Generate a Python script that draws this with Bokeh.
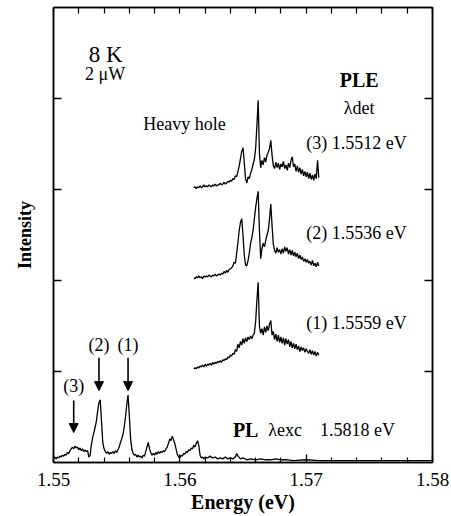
from math import pi
from bokeh.plotting import figure
from bokeh.models import (Range1d, LinearAxis, FixedTicker, Label, Arrow,
                          NormalHead, NumeralTickFormatter)
from bokeh.embed import file_html
from bokeh.resources import INLINE

# ---------------- data ----------------
X_TICKS = [1.55, 1.56, 1.57, 1.58]
X_MINOR = [1.552, 1.554, 1.556, 1.558, 1.562, 1.564, 1.566, 1.568,
           1.572, 1.574, 1.576, 1.578]
Y_TICKS = [1, 2, 3, 4]

# PL spectrum (energy eV, intensity arb.)
PL_POINTS = [
    (1.5500, 0.05), (1.5501, 0.06), (1.5502, 0.04), (1.5503, 0.06), (1.5504, 0.05),
    (1.5505, 0.07), (1.5506, 0.06), (1.5507, 0.08), (1.5508, 0.07), (1.5509, 0.09),
    (1.5510, 0.08), (1.5511, 0.11), (1.5512, 0.10), (1.5513, 0.13), (1.5514, 0.15),
    (1.5515, 0.17), (1.5516, 0.15), (1.5517, 0.18), (1.5518, 0.16), (1.5519, 0.17),
    (1.5520, 0.14), (1.5521, 0.16), (1.5522, 0.13), (1.5523, 0.15), (1.5524, 0.12),
    (1.5525, 0.14), (1.5526, 0.12), (1.5527, 0.13), (1.5528, 0.06), (1.5529, 0.08),
    (1.5530, 0.20), (1.5531, 0.27), (1.5532, 0.33), (1.5533, 0.39), (1.5534, 0.46),
    (1.5535, 0.57), (1.5536, 0.66), (1.5537, 0.69), (1.5538, 0.45), (1.5539, 0.22),
    (1.5540, 0.15), (1.5541, 0.12), (1.5542, 0.10), (1.5543, 0.12), (1.5544, 0.09),
    (1.5545, 0.11), (1.5546, 0.10), (1.5547, 0.12), (1.5548, 0.10), (1.5549, 0.13),
    (1.5550, 0.11), (1.5551, 0.14), (1.5552, 0.17), (1.5553, 0.22), (1.5554, 0.26),
    (1.5555, 0.31), (1.5556, 0.39), (1.5557, 0.50), (1.5558, 0.64), (1.5559, 0.74),
    (1.5560, 0.52), (1.5561, 0.26), (1.5562, 0.15), (1.5563, 0.10), (1.5564, 0.08),
    (1.5565, 0.09), (1.5566, 0.06), (1.5567, 0.08), (1.5568, 0.06), (1.5569, 0.07),
    (1.5570, 0.05), (1.5571, 0.08), (1.5572, 0.07), (1.5573, 0.12), (1.5574, 0.17),
    (1.5575, 0.22), (1.5576, 0.15), (1.5577, 0.11), (1.5578, 0.08), (1.5579, 0.10),
    (1.5580, 0.08), (1.5581, 0.11), (1.5582, 0.09), (1.5583, 0.12), (1.5584, 0.10),
    (1.5585, 0.12), (1.5586, 0.11), (1.5587, 0.13), (1.5588, 0.12), (1.5589, 0.15),
    (1.5590, 0.17), (1.5591, 0.21), (1.5592, 0.26), (1.5593, 0.24), (1.5594, 0.29),
    (1.5595, 0.25), (1.5596, 0.21), (1.5597, 0.15), (1.5598, 0.09), (1.5599, 0.06),
    (1.5600, 0.05), (1.5601, 0.08), (1.5602, 0.07), (1.5603, 0.10), (1.5604, 0.09),
    (1.5605, 0.12), (1.5606, 0.11), (1.5607, 0.14), (1.5608, 0.13), (1.5609, 0.16),
    (1.5610, 0.15), (1.5611, 0.19), (1.5612, 0.17), (1.5613, 0.21), (1.5614, 0.24),
    (1.5615, 0.19), (1.5616, 0.08), (1.5617, 0.05), (1.5618, 0.06), (1.5619, 0.04),
    (1.5620, 0.06), (1.5622, 0.05), (1.5624, 0.07), (1.5626, 0.05), (1.5628, 0.06),
    (1.5630, 0.04), (1.5632, 0.05), (1.5634, 0.04), (1.5636, 0.06), (1.5638, 0.04),
    (1.5640, 0.05), (1.5642, 0.04), (1.5644, 0.06), (1.5645, 0.10), (1.5646, 0.07),
    (1.5648, 0.04), (1.5650, 0.05), (1.5653, 0.03), (1.5656, 0.04), (1.5660, 0.03),
    (1.5664, 0.04), (1.5668, 0.03), (1.5672, 0.03), (1.5676, 0.04), (1.5680, 0.03),
    (1.5685, 0.03), (1.5690, 0.02), (1.5700, 0.03), (1.5710, 0.02), (1.5720, 0.02),
    (1.5740, 0.02), (1.5760, 0.02), (1.5780, 0.02), (1.5800, 0.02),
]

# PLE spectra energy grid (eV)
PLE_E = [
    1.5611, 1.5612, 1.5613, 1.5614, 1.5615, 1.5616, 1.5617, 1.5618, 1.5619, 1.5620,
    1.5621, 1.5622, 1.5623, 1.5624, 1.5625, 1.5626, 1.5627, 1.5628, 1.5629, 1.5630,
    1.5631, 1.5632, 1.5633, 1.5634, 1.5635, 1.5636, 1.5637, 1.5638, 1.5639, 1.5640,
    1.5641, 1.5642, 1.5643, 1.5644, 1.5645, 1.5646, 1.5647, 1.5648, 1.5649, 1.5650,
    1.5651, 1.5652, 1.5653, 1.5654, 1.5655, 1.5656, 1.5657, 1.5658, 1.5659, 1.5660,
    1.5661, 1.5662, 1.5663, 1.5664, 1.5665, 1.5666, 1.5667, 1.5668, 1.5669, 1.5670,
    1.5671, 1.5672, 1.5673, 1.5674, 1.5675, 1.5676, 1.5677, 1.5678, 1.5679, 1.5680,
    1.5681, 1.5682, 1.5683, 1.5684, 1.5685, 1.5686, 1.5687, 1.5688, 1.5689, 1.5690,
    1.5691, 1.5692, 1.5693, 1.5694, 1.5695, 1.5696, 1.5697, 1.5698, 1.5699, 1.5700,
    1.5701, 1.5702, 1.5703, 1.5704, 1.5705, 1.5706, 1.5707, 1.5708, 1.5709, 1.5710,
]

# PLE (3) detected at 1.5512 eV (offset curve)
PLE3_I = [
    3.02, 3.03, 3.01, 3.03, 3.02, 3.04, 3.02, 3.03, 3.05, 3.03,
    3.04, 3.03, 3.05, 3.04, 3.03, 3.05, 3.04, 3.06, 3.04, 3.05,
    3.05, 3.07, 3.05, 3.06, 3.08, 3.06, 3.07, 3.09, 3.08, 3.10,
    3.09, 3.12, 3.11, 3.15, 3.14, 3.20, 3.26, 3.34, 3.42, 3.46,
    3.30, 3.12, 3.07, 3.14, 3.12, 3.18, 3.22, 3.28, 3.33, 3.45,
    3.70, 3.98, 3.40, 3.24, 3.32, 3.27, 3.35, 3.30, 3.38, 3.41,
    3.45, 3.54, 3.38, 3.26, 3.23, 3.30, 3.24, 3.29, 3.22, 3.28,
    3.25, 3.31, 3.23, 3.27, 3.21, 3.29, 3.24, 3.32, 3.36, 3.25,
    3.28, 3.20, 3.26, 3.19, 3.24, 3.17, 3.22, 3.15, 3.20, 3.14,
    3.19, 3.12, 3.18, 3.11, 3.16, 3.10, 3.17, 3.12, 3.32, 3.13,
]

# PLE (2) detected at 1.5536 eV
PLE2_I = [
    2.03, 2.02, 2.04, 2.03, 2.05, 2.03, 2.04, 2.02, 2.05, 2.04,
    2.05, 2.04, 2.06, 2.05, 2.04, 2.06, 2.05, 2.07, 2.05, 2.06,
    2.07, 2.06, 2.08, 2.07, 2.10, 2.08, 2.11, 2.09, 2.12, 2.13,
    2.14, 2.16, 2.20, 2.19, 2.30, 2.42, 2.55, 2.64, 2.68, 2.50,
    2.28, 2.17, 2.16, 2.22, 2.30, 2.41, 2.47, 2.55, 2.68, 2.80,
    2.90, 2.98, 2.55, 2.24, 2.35, 2.41, 2.37, 2.44, 2.50, 2.55,
    2.68, 2.84, 2.60, 2.40, 2.33, 2.30, 2.36, 2.31, 2.34, 2.29,
    2.35, 2.30, 2.37, 2.32, 2.36, 2.29, 2.34, 2.28, 2.33, 2.27,
    2.31, 2.26, 2.30, 2.24, 2.28, 2.23, 2.26, 2.21, 2.24, 2.20,
    2.23, 2.19, 2.21, 2.17, 2.22, 2.16, 2.19, 2.15, 2.20, 2.16,
]

# PLE (1) detected at 1.5559 eV
PLE1_I = [
    1.03, 1.04, 1.03, 1.05, 1.04, 1.06, 1.05, 1.07, 1.05, 1.08,
    1.06, 1.08, 1.07, 1.09, 1.07, 1.10, 1.08, 1.10, 1.09, 1.11,
    1.10, 1.12, 1.10, 1.13, 1.12, 1.14, 1.13, 1.16, 1.15, 1.18,
    1.17, 1.20, 1.19, 1.24, 1.22, 1.30, 1.26, 1.33, 1.29, 1.36,
    1.31, 1.37, 1.33, 1.38, 1.35, 1.39, 1.36, 1.40, 1.42, 1.55,
    1.78, 1.98, 1.50, 1.42, 1.47, 1.40, 1.49, 1.43, 1.50, 1.45,
    1.52, 1.56, 1.40, 1.44, 1.35, 1.41, 1.33, 1.40, 1.32, 1.38,
    1.31, 1.37, 1.29, 1.36, 1.30, 1.35, 1.27, 1.33, 1.26, 1.31,
    1.25, 1.30, 1.24, 1.28, 1.22, 1.27, 1.23, 1.26, 1.21, 1.25,
    1.22, 1.20, 1.24, 1.19, 1.23, 1.18, 1.22, 1.17, 1.21, 1.18,
]

PLE_LABELS = ["(3) 1.5512 eV", "(2) 1.5536 eV", "(1) 1.5559 eV"]
ARROW_E = [1.5516, 1.5536, 1.5559]
ARROW_LABELS = ["(3)", "(2)", "(1)"]

# ---------------- figure ----------------
FONT = "Liberation Serif"

p = figure(width=451, height=516, output_backend="svg", toolbar_location=None,
           x_range=Range1d(1.55, 1.58), y_range=Range1d(0, 5),
           min_border_left=53, min_border_right=19, min_border_top=7,
           min_border_bottom=54, x_axis_location=None, y_axis_location=None)
p.grid.visible = False
p.outline_line_color = "black"
p.outline_line_width = 1.5
p.background_fill_color = "white"
p.border_fill_color = "white"

# bottom axis with labels
xb = LinearAxis(ticker=FixedTicker(ticks=X_TICKS, minor_ticks=X_MINOR),
                formatter=NumeralTickFormatter(format="0.00"),
                major_tick_in=8, major_tick_out=0,
                minor_tick_in=5, minor_tick_out=0,
                axis_line_width=1.5, major_tick_line_width=1.3,
                minor_tick_line_width=1.2,
                major_label_text_font=FONT, major_label_text_font_size="19px",
                major_label_text_color="black", major_label_standoff=10,
                axis_label="Energy (eV)", axis_label_text_font=FONT,
                axis_label_text_font_size="20px",
                axis_label_text_font_style="bold",
                axis_label_text_color="black", axis_label_standoff=2)
p.add_layout(xb, "below")

# top axis: ticks only (drawn as minor ticks so no labels exist)
xt = LinearAxis(ticker=FixedTicker(ticks=[], minor_ticks=X_TICKS + X_MINOR),
                major_tick_in=0, major_tick_out=0,
                minor_tick_in=6, minor_tick_out=0,
                axis_line_width=1.5, minor_tick_line_width=1.2,
                major_label_standoff=0)
p.add_layout(xt, "above")

# left axis: ticks + title
yl = LinearAxis(ticker=FixedTicker(ticks=[], minor_ticks=Y_TICKS),
                major_tick_in=0, major_tick_out=0,
                minor_tick_in=8, minor_tick_out=0,
                axis_line_width=1.5, minor_tick_line_width=1.3,
                major_label_standoff=0,
                axis_label="Intensity", axis_label_text_font=FONT,
                axis_label_text_font_size="18px",
                axis_label_text_font_style="bold",
                axis_label_text_color="black", axis_label_standoff=19)
p.add_layout(yl, "left")

yr = LinearAxis(ticker=FixedTicker(ticks=[], minor_ticks=Y_TICKS),
                major_tick_in=0, major_tick_out=0,
                minor_tick_in=8, minor_tick_out=0,
                axis_line_width=1.5, minor_tick_line_width=1.3,
                major_label_standoff=0)
p.add_layout(yr, "right")

# curves
pl_e = [pt[0] for pt in PL_POINTS]
pl_i = [pt[1] for pt in PL_POINTS]
p.line(pl_e, pl_i, line_color="black", line_width=1.3)
for ys in (PLE1_I, PLE2_I, PLE3_I):
    p.line(PLE_E, ys, line_color="black", line_width=1.3)


def lab(x, y, text, size, bold=False, **kw):
    p.add_layout(Label(x=x, y=y, text=text, text_font=FONT,
                       text_font_size=size,
                       text_font_style="bold" if bold else "normal",
                       text_color="black", text_baseline="alphabetic", **kw))


# annotations
lab(1.5528, 4.48, "8 K", "23px")
lab(1.5525, 4.27, "2 \u03bcW", "18px")
lab(1.5742, 4.20, "PLE", "20px", bold=True, text_align="center")
lab(1.5742, 3.90, "\u03bbdet", "18px", text_align="center")
lab(1.5571, 3.72, "Heavy hole", "18px")
for yb, t in zip([3.51, 2.52, 1.53], PLE_LABELS):
    lab(1.5700, yb, t, "18px")
lab(1.5642, 0.36, "PL", "20px", bold=True)
lab(1.5670, 0.36, "\u03bbexc", "18px")
lab(1.5711, 0.36, "1.5818 eV", "18px")

# arrows to PL peaks
for e, t in zip(ARROW_E, ARROW_LABELS):
    if t == "(3)":
        y0, y1, yl_ = 0.68, 0.33, 0.84
    else:
        y0, y1, yl_ = 1.15, 0.79, 1.29
    p.add_layout(Arrow(end=NormalHead(size=9, fill_color="black",
                                      line_color="black", line_width=1),
                       x_start=e, y_start=y0, x_end=e, y_end=y1,
                       line_color="black", line_width=1.6))
    lab(e, yl_, t, "18px", text_align="center")

open("out.html", "w").write(file_html(p, INLINE))
